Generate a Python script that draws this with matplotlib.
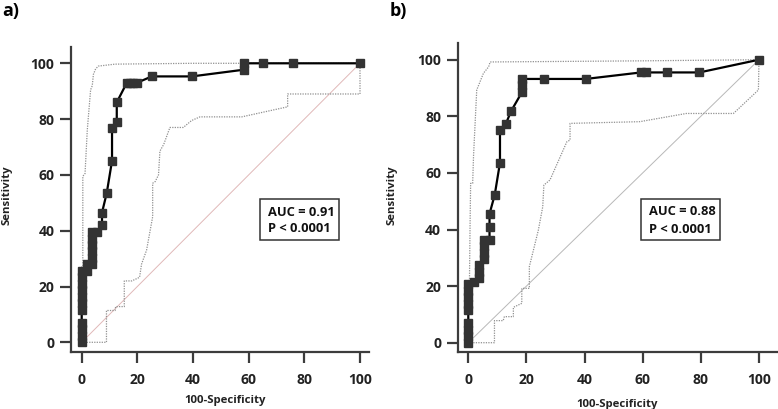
import numpy as np
import matplotlib
matplotlib.use("Agg")
import matplotlib.pyplot as plt
from matplotlib.patches import Rectangle

plt.rcParams['font.family'] = ['Open Sans', 'DejaVu Sans']
plt.rcParams['font.weight'] = 'bold'

# ---- panel a data (100-specificity, sensitivity) ----
roc_a_x = [0, 0, 0, 0, 0, 0, 0, 0, 0, 0, 0, 1.9, 1.9, 3.8, 3.8, 3.8, 3.8, 3.8, 3.8,
           5.6, 7.3, 7.3, 9.0, 10.9, 10.9, 12.6, 12.6, 16.2, 17.4, 18.6, 19.8,
           25.2, 39.6, 58.2, 58.2, 65.3, 76.0, 100]
roc_a_y = [0, 2.3, 4.7, 7.0, 11.6, 14.0, 16.3, 18.6, 20.9, 23.3, 25.6, 25.6, 27.9,
           27.9, 30.2, 32.6, 34.9, 37.2, 39.5, 39.5, 41.9, 46.5, 53.5, 65.1, 76.7,
           79.1, 86.0, 93.0, 93.0, 93.0, 93.0, 95.3, 95.3, 97.7, 100, 100, 100, 100]
upper_a_x = [0, 0, 0.4, 0.4, 1.2, 2.0, 3.2, 3.8, 4.2, 5.0, 6.0, 12.0, 40, 100]
upper_a_y = [0, 27, 27, 59.5, 60.5, 76, 90.5, 92, 96, 98, 99, 99.7, 100, 100]
lower_a_x = [0, 8.9, 8.9, 12.0, 12.2, 15.3, 15.3, 18.0, 20.8, 21.5, 23.3, 25.5,
             25.5, 26.4, 27.6, 28.1, 29.5, 31.7, 36.5, 39.5, 42.5, 57.5, 74, 74,
             100, 100]
lower_a_y = [0, 0, 11.4, 11.4, 12.8, 12.8, 22.0, 22.0, 23.3, 28, 33, 45, 57,
             57.6, 60, 68.5, 71, 77, 77, 79.5, 80.8, 80.8, 84.4, 89, 89, 100]

# ---- panel b data ----
roc_b_x = [0, 0, 0, 0, 0, 0, 0, 0, 0, 1.8, 3.6, 3.6, 3.6, 5.4, 5.4, 5.4, 5.4,
           7.3, 7.3, 7.3, 9.1, 10.9, 10.9, 12.9, 14.7, 18.5, 18.5, 18.5,
           25.9, 40.4, 59.4, 61.2, 68.2, 79.5, 100]
roc_b_y = [0, 2.3, 4.6, 6.9, 11.4, 13.7, 16.0, 18.3, 20.6, 21.6, 22.7, 25.0,
           27.3, 29.5, 31.8, 34.1, 36.4, 36.4, 40.9, 45.5, 52.3, 63.6, 75.0,
           77.3, 81.8, 88.6, 90.9, 93.2, 93.2, 93.2, 95.5, 95.5, 95.5, 95.5, 100]
upper_b_x = [0, 0, 0.4, 0.6, 0.8, 1.5, 1.8, 2.9, 5.2, 7.0, 7.5, 60, 100]
upper_b_y = [0, 22, 22, 41, 56.3, 56.3, 66, 89.3, 95.2, 97.5, 99.2, 99.6, 100]
lower_b_x = [0, 9.0, 9.0, 12.0, 12.4, 15.5, 15.5, 18.4, 18.4, 21.0, 21.0, 22.4,
             24.1, 25.6, 26.0, 28.1, 33.9, 35.0, 35.0, 59.0, 75.0, 91.2, 99.8,
             100]
lower_b_y = [0, 0, 7.8, 7.8, 9.2, 9.2, 12.5, 13.9, 19.2, 19.2, 26.9, 32.7,
             39.8, 48, 55.7, 57.5, 71.0, 71.6, 77.5, 78.1, 81, 81, 89.3, 100]

ticks = [0, 20, 40, 60, 80, 100]

W, H = 778, 409
fig = plt.figure(figsize=(W / 100, H / 100), dpi=100)

spine_col = '#3c3c3c'
mark_col = '#333333'


def make_axes(left, right, top, bottom, x0, x100, y0, y100):
    # pixel geometry -> axes with matching data limits
    sx = (x100 - x0) / 100.0
    sy = (y0 - y100) / 100.0
    ax = fig.add_axes([left / W, 1 - bottom / H, (right - left) / W, (bottom - top) / H])
    ax.set_xlim((left - x0) / sx, (right - x0) / sx)
    ax.set_ylim((y0 - bottom) / sy, (y0 - top) / sy)
    for s in ['top', 'right']:
        ax.spines[s].set_visible(False)
    for s in ['left', 'bottom']:
        ax.spines[s].set_color(spine_col)
        ax.spines[s].set_linewidth(1.6)
    ax.set_xticks(ticks)
    ax.set_yticks(ticks)
    ax.tick_params(axis='both', length=8, width=1.6, color=spine_col,
                   labelsize=10, labelcolor='#222222')
    ax.tick_params(axis='x', pad=7)
    ax.tick_params(axis='y', pad=4)
    ax.patch.set_alpha(0)
    return ax


def draw_panel(ax, rx, ry, ux, uy, lx, ly, diag_col, auc_text, box, txt_x, txt_y):
    ax.plot([0, 100], [0, 100], color=diag_col, lw=0.7, zorder=1)
    ax.plot(ux, uy, color='#909090', lw=0.9, ls=(0, (1, 1)), zorder=2)
    ax.plot(lx, ly, color='#909090', lw=0.9, ls=(0, (1, 1)), zorder=2)
    ax.plot(rx, ry, color='black', lw=1.6, marker='s', ms=5.8,
            mfc=mark_col, mec=mark_col, zorder=3, clip_on=False)
    bx0, by0, bx1, by1 = box
    ax.add_patch(Rectangle((bx0, by0), bx1 - bx0, by1 - by0, fill=True,
                           fc='white', ec='#333333', lw=1.1, zorder=4))
    ax.text(txt_x, txt_y[0], auc_text, fontsize=9.3, fontweight='bold',
            va='center', ha='left', color='#111111', zorder=5)
    ax.text(txt_x, txt_y[1], 'P < 0.0001', fontsize=9.3, fontweight='bold',
            va='center', ha='left', color='#111111', zorder=5)


ax_a = make_axes(71, 369, 47, 351.7, 81.7, 360, 342.3, 63.3)
draw_panel(ax_a, roc_a_x, roc_a_y, upper_a_x, upper_a_y, lower_a_x, lower_a_y,
           '#e0b8b8', 'AUC = 0.91', (64, 36.7, 92.6, 51.3), 67, (46.6, 40.9))

ax_b = make_axes(457.7, 778, 42.7, 352.3, 468.3, 759, 342.7, 59.7)
draw_panel(ax_b, roc_b_x, roc_b_y, upper_b_x, upper_b_y, lower_b_x, lower_b_y,
           '#b8b8b8', 'AUC = 0.88', (59.3, 36.4, 86.6, 50.7), 62.3, (46.2, 40.1))

# axis labels and panel letters
lab_kw = dict(fontsize=8.2, fontweight='bold', color='#222222')
fig.text(7 / W, 1 - 195 / H, 'Sensitivity', rotation=90, ha='center', va='center', **lab_kw)
fig.text(392 / W, 1 - 195 / H, 'Sensitivity', rotation=90, ha='center', va='center', **lab_kw)
fig.text(225 / W, 1 - 401 / H, '100-Specificity', ha='center', va='center', **lab_kw)
fig.text(617 / W, 1 - 404 / H, '100-Specificity', ha='center', va='center', **lab_kw)
fig.text(2 / W, 1 - 11 / H, 'a)', fontsize=13, fontweight='bold', ha='left', va='center')
fig.text(390 / W, 1 - 11 / H, 'b)', fontsize=13, fontweight='bold', ha='left', va='center')

fig.savefig('out.png', dpi=100)
